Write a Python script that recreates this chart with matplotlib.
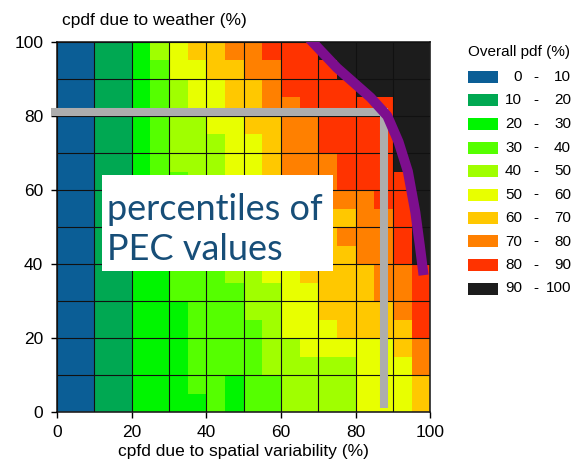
import matplotlib
matplotlib.use("Agg")
import matplotlib.pyplot as plt
import numpy as np
from matplotlib.colors import ListedColormap, BoundaryNorm
from matplotlib.patches import Rectangle

plt.rcParams["font.family"] = ["Liberation Sans", "DejaVu Sans"]

# class of overall pdf (0 -> 0-10 %, ..., 9 -> 90-100 %), 5 % cells
# rows run from y = 95-100 (top) down to y = 0-5 (bottom)
pdf_class = [
    [0, 0, 1, 1, 2, 4, 5, 6, 6, 7, 7, 8, 8, 8, 9, 9, 9, 9, 9, 9],
    [0, 0, 1, 1, 2, 3, 5, 5, 6, 6, 7, 7, 8, 8, 8, 9, 9, 9, 9, 9],
    [0, 0, 1, 1, 2, 3, 4, 5, 5, 6, 6, 7, 8, 8, 8, 8, 9, 9, 9, 9],
    [0, 0, 1, 1, 2, 3, 4, 5, 5, 6, 6, 7, 7, 8, 8, 8, 8, 8, 9, 9],
    [0, 0, 1, 1, 2, 3, 4, 4, 5, 5, 6, 6, 7, 7, 8, 8, 8, 8, 9, 9],
    [0, 0, 1, 1, 2, 3, 4, 4, 4, 5, 5, 6, 7, 7, 8, 8, 8, 8, 9, 9],
    [0, 0, 1, 1, 2, 3, 4, 4, 4, 5, 5, 6, 7, 7, 7, 8, 8, 8, 9, 9],
    [0, 0, 1, 1, 2, 3, 3, 4, 4, 5, 5, 6, 7, 7, 7, 8, 8, 8, 8, 9],
    [0, 0, 1, 1, 2, 2, 3, 3, 4, 4, 5, 5, 6, 6, 7, 7, 7, 8, 8, 9],
    [0, 0, 1, 1, 2, 2, 3, 3, 4, 4, 5, 5, 6, 6, 6, 6, 7, 7, 8, 9],
    [0, 0, 1, 1, 2, 2, 3, 3, 3, 4, 4, 5, 5, 6, 6, 7, 7, 7, 8, 9],
    [0, 0, 1, 1, 2, 2, 3, 3, 3, 3, 4, 4, 5, 5, 6, 6, 7, 7, 8, 9],
    [0, 0, 1, 1, 2, 2, 3, 3, 3, 4, 4, 5, 5, 6, 6, 6, 6, 7, 7, 8],
    [0, 0, 1, 1, 2, 2, 3, 3, 3, 3, 4, 4, 5, 5, 6, 6, 6, 7, 7, 8],
    [0, 0, 1, 1, 2, 2, 2, 3, 3, 3, 4, 4, 5, 5, 6, 6, 6, 6, 7, 8],
    [0, 0, 1, 1, 2, 2, 2, 3, 3, 3, 3, 4, 5, 5, 5, 6, 6, 6, 6, 8],
    [0, 0, 1, 1, 2, 2, 2, 3, 3, 3, 3, 4, 4, 5, 5, 5, 5, 5, 6, 7],
    [0, 0, 1, 1, 2, 2, 2, 3, 3, 3, 3, 4, 4, 4, 4, 4, 5, 5, 5, 7],
    [0, 0, 1, 1, 2, 2, 2, 3, 3, 2, 3, 3, 4, 4, 4, 4, 5, 5, 5, 6],
    [0, 0, 1, 1, 2, 2, 2, 2, 3, 2, 3, 3, 4, 4, 4, 4, 5, 5, 5, 6],
]
class_colors = ["#0B5E96", "#00A852", "#00F500", "#55FF00", "#A0FF00",
                "#E8FF00", "#FFC800", "#FF8000", "#FF3300", "#1C1C1C"]
class_low = [0, 10, 20, 30, 40, 50, 60, 70, 80, 90]
class_high = [10, 20, 30, 40, 50, 60, 70, 80, 90, 100]

# percentile contour (purple) and grey reference percentiles
contour_x = [67.5, 75.0, 84.0, 88.5, 91.5, 94.0, 96.0, 97.2, 98.2]
contour_y = [101.0, 93.0, 85.0, 80.0, 73.0, 65.0, 54.0, 45.0, 37.0]
ref_x = [-1.5, 87.5, 87.5]
ref_y = [81.0, 81.0, 1.0]

fig = plt.figure(figsize=(5.76, 4.61), dpi=100)
ax = fig.add_axes([0.099, 0.106, 0.648, 0.803])

edges = np.arange(0, 101, 5)
grid = np.array(pdf_class)[::-1]
cmap = ListedColormap(class_colors)
norm = BoundaryNorm(np.arange(-0.5, 10.5, 1), cmap.N)
ax.pcolormesh(edges, edges, grid, cmap=cmap, norm=norm, zorder=1)

ax.set_xlim(0, 100)
ax.set_ylim(0, 100)
ax.set_xticks(np.arange(0, 101, 20))
ax.set_yticks(np.arange(0, 101, 20))
ax.set_xticks(np.arange(0, 101, 10), minor=True)
ax.set_yticks(np.arange(0, 101, 10), minor=True)
ax.grid(which="both", color="#111111", linewidth=0.8)
ax.set_axisbelow(False)
ax.tick_params(which="minor", length=0)
ax.tick_params(which="major", length=4.5, width=1, labelsize=12.5)
ax.tick_params(axis="x", pad=4.5)
ax.tick_params(axis="y", pad=5.5)
for s in ax.spines.values():
    s.set_linewidth(1.2)
    s.set_color("#222222")

# text box
ax.add_patch(Rectangle((12, 38), 62, 26, facecolor="white", edgecolor="none", zorder=3))
box_font = dict(family=["Lato", "DejaVu Sans"], fontsize=26, color="#174E78",
                va="baseline", zorder=4)
ax.text(13.5, 52.0, "percentiles of", **box_font)
ax.text(13.5, 41.0, "PEC values", **box_font)

ax.plot(ref_x, ref_y, color="#ADADAD", linewidth=5.8, solid_capstyle="butt",
        solid_joinstyle="miter", clip_on=False, zorder=5)
ax.plot(contour_x, contour_y, color="#7D0E8E", linewidth=7.2, solid_capstyle="butt",
        zorder=6)

fig.text(0.108, 0.955, "cpdf due to weather (%)", fontsize=12.5, va="center")
ax.set_xlabel("cpfd due to spatial variability (%)", fontsize=12.5, labelpad=3)

# legend drawn by hand
W, H = 576.0, 461.0
fig.text(468 / W, 1 - 52 / H, "Overall pdf (%)", fontsize=11, va="center")
for k, col in enumerate(class_colors):
    yc = 77 + k * 23.5
    fig.patches.append(Rectangle((468 / W, 1 - (yc + 6) / H), 30 / W, 12 / H,
                                 facecolor=col, edgecolor="none",
                                 transform=fig.transFigure, figure=fig))
    fig.text(522 / W, 1 - yc / H, str(class_low[k]), fontsize=11, ha="right", va="center")
    fig.text(536 / W, 1 - yc / H, "-", fontsize=11, ha="center", va="center")
    fig.text(571 / W, 1 - yc / H, str(class_high[k]), fontsize=11, ha="right", va="center")

fig.savefig("out.png", dpi=100)
